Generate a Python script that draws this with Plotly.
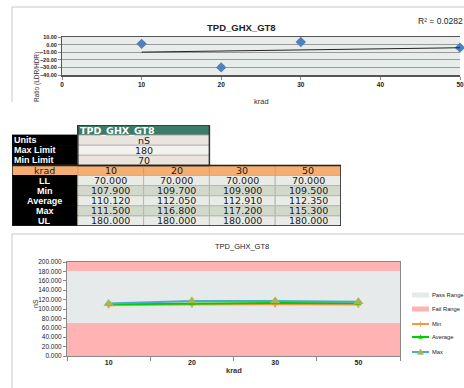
import numpy as np
import plotly.graph_objects as go

W, H = 464, 388
TITLE = "TPD_GHX_GT8"

# ---- data ----
krad = [10, 20, 30, 50]
ratio = [1.0, -30.0, 3.5, -4.0]            # Ratio (LDR/HDR) points, top chart
r2_text = "R² = 0.0282"

units = "nS"
max_limit = 180
min_limit = 70
ll_vals = [70.0, 70.0, 70.0, 70.0]
min_vals = [107.9, 109.7, 109.9, 109.5]
avg_vals = [110.12, 112.05, 112.91, 112.35]
max_vals = [111.5, 116.8, 117.2, 115.3]
ul_vals = [180.0, 180.0, 180.0, 180.0]
y_top = 200

row_labels = ["LL", "Min", "Average", "Max", "UL"]
upper_labels = ["Units", "Max Limit", "Min Limit"]
legend_names = ["Pass Range", "Fail Range", "Min", "Average", "Max"]


def px(x):
    return x / W


def py(y):
    return 1 - y / H


fig = go.Figure()
FONT = "Liberation Sans"
TFONT = "DejaVu Sans"

PASS_C = "#E6EAEA"
FAIL_C = "#FFB3B3"
MIN_C = "#F79646"
AVG_C = "#00CC00"
MAX_C = "#4BACC6"
MAXM_C = "#9BBB59"

# ================= top chart =================
fig.add_trace(go.Scatter(
    x=krad, y=ratio, mode="markers", xaxis="x", yaxis="y",
    marker=dict(symbol="diamond", size=8, color="#4F81BD"),
    showlegend=False, cliponaxis=False))
coef = np.polyfit(krad, ratio, 1)
tx = [min(krad), max(krad)]
fig.add_trace(go.Scatter(
    x=tx, y=list(np.polyval(coef, tx)), mode="lines", xaxis="x", yaxis="y",
    line=dict(color="#222222", width=1), showlegend=False))

shapes = []
annots = []

# top plot background
shapes.append(dict(type="rect", xref="x domain", yref="y domain", x0=0, x1=1, y0=0, y1=1,
                   fillcolor="#E8EDEB", line=dict(width=0), layer="below"))

# ================= table =================


def cell(c0, c1, r, fill, line=None):
    shapes.append(dict(type="rect", xref="x2", yref="y2", x0=c0, x1=c1, y0=r, y1=r + 1,
                       fillcolor=fill, line=dict(color=line or fill, width=1), layer="below"))


def txt(x, r, s, color="#1a1a1a", bold=False, anchor="center", family=TFONT, size=9.5):
    annots.append(dict(xref="x2", yref="y2", x=x, y=r + 0.5, text=("<b>%s</b>" % s) if bold else s,
                       showarrow=False, xanchor=anchor, yanchor="middle", borderpad=0,
                       font=dict(family=family, size=size, color=color)))


# header
cell(1, 3, 0, "#3C7B68", "#2f5f50")
txt(1.02, 0, TITLE, color="white", bold=True, anchor="left")
# upper block
upper_vals = [units, str(max_limit), str(min_limit)]
upper_fill = ["#E9E4DE", "#F4F2EF", "#E9E4DE"]
for i, (lab, val) in enumerate(zip(upper_labels, upper_vals)):
    r = i + 1
    cell(0, 1, r, "black")
    txt(0.02, r, lab, color="white", bold=True, anchor="left", family=FONT, size=9)
    cell(1, 3, r, upper_fill[i], "#B8B8B8")
    txt(2, r, val)
shapes.append(dict(type="rect", xref="x2", yref="y2", x0=1, x1=3, y0=0, y1=4,
                   line=dict(color="#333333", width=1.5)))
# krad row
cell(0, 5, 4, "#F4AE72", "#F4AE72")
txt(0.5, 4, "krad")
for j, k in enumerate(krad):
    shapes.append(dict(type="line", xref="x2", yref="y2", x0=j + 1, x1=j + 1, y0=4, y1=5,
                       line=dict(color="#D89A66", width=1)))
    txt(j + 1.5, 4, str(k))
# data rows
rows = [ll_vals, min_vals, avg_vals, max_vals, ul_vals]
for i, (lab, vals) in enumerate(zip(row_labels, rows)):
    r = i + 5
    cell(0, 1, r, "black")
    txt(0.5, r, lab, color="white", bold=True, family=FONT, size=9)
    fill = "#E9ECE6" if i % 2 == 0 else "#D2D9CB"
    for j, v in enumerate(vals):
        cell(j + 1, j + 2, r, fill, "#B4B8B0")
        txt(j + 1.5, r, "%.3f" % v)
shapes.append(dict(type="rect", xref="x2", yref="y2", x0=0, x1=5, y0=4, y1=10,
                   line=dict(color="#222222", width=1.5)))

# ================= bottom chart =================
cats = [str(k) for k in krad]
fig.add_trace(go.Bar(x=cats, y=ll_vals, xaxis="x3", yaxis="y3", name="Fail Range",
                     marker=dict(color=FAIL_C, line=dict(width=0)), showlegend=False))
fig.add_trace(go.Bar(x=cats, y=[u - l for u, l in zip(ul_vals, ll_vals)], base=ll_vals,
                     xaxis="x3", yaxis="y3", name="Pass Range",
                     marker=dict(color=PASS_C, line=dict(width=0)), showlegend=False))
fig.add_trace(go.Bar(x=cats, y=[y_top - u for u in ul_vals], base=ul_vals,
                     xaxis="x3", yaxis="y3", name="Fail Range",
                     marker=dict(color=FAIL_C, line=dict(width=0)), showlegend=False))
fig.add_trace(go.Scatter(x=cats, y=min_vals, xaxis="x3", yaxis="y3", name="Min", mode="lines+markers",
                         line=dict(color=MIN_C, width=2), showlegend=False,
                         marker=dict(symbol="cross", size=5, color=MIN_C)))
fig.add_trace(go.Scatter(x=cats, y=avg_vals, xaxis="x3", yaxis="y3", name="Average", mode="lines+markers",
                         line=dict(color=AVG_C, width=2), showlegend=False,
                         marker=dict(symbol="triangle-up", size=5, color=AVG_C)))
fig.add_trace(go.Scatter(x=cats, y=max_vals, xaxis="x3", yaxis="y3", name="Max", mode="lines+markers",
                         line=dict(color=MAX_C, width=2), showlegend=False,
                         marker=dict(symbol="triangle-up", size=9, color=MAXM_C)))

# ---- manual legend (Excel-like compact spacing) ----
leg_y = [295, 309, 324, 337, 352]
lx0, lx1, ltx = 412, 429, 431
for name, yy in zip(legend_names, leg_y):
    annots.append(dict(xref="paper", yref="paper", x=px(ltx), y=py(yy), text=name, showarrow=False,
                       xanchor="left", yanchor="middle", borderpad=0,
                       font=dict(family=FONT, size=5.8, color="#222")))
shapes.append(dict(type="rect", xref="paper", yref="paper", x0=px(lx0), x1=px(lx1),
                   y0=py(leg_y[0] + 2.5), y1=py(leg_y[0] - 2.5), fillcolor=PASS_C, line=dict(width=0)))
shapes.append(dict(type="rect", xref="paper", yref="paper", x0=px(lx0), x1=px(lx1),
                   y0=py(leg_y[1] + 2.5), y1=py(leg_y[1] - 2.5), fillcolor=FAIL_C, line=dict(width=0)))
for yy, col in zip(leg_y[2:], [MIN_C, AVG_C, MAX_C]):
    shapes.append(dict(type="line", xref="paper", yref="paper", x0=px(lx0), x1=px(lx1),
                       y0=py(yy), y1=py(yy), line=dict(color=col, width=2)))
cx = (lx0 + lx1) / 2
# Min marker: small cross
shapes.append(dict(type="line", xref="paper", yref="paper", x0=px(cx), x1=px(cx),
                   y0=py(leg_y[2] - 2.5), y1=py(leg_y[2] + 2.5), line=dict(color=MIN_C, width=1)))
# triangles for Average / Max
for yy, col, s in [(leg_y[3], AVG_C, 2.0), (leg_y[4], MAXM_C, 3.0)]:
    path = "M %f,%f L %f,%f L %f,%f Z" % (px(cx - s), py(yy + s * 0.8), px(cx + s), py(yy + s * 0.8),
                                          px(cx), py(yy - s * 1.1))
    shapes.append(dict(type="path", xref="paper", yref="paper", path=path, fillcolor=col,
                       line=dict(color=col, width=0.5)))

# frames
fr = "#C8C8C8"
shapes.append(dict(type="line", xref="paper", yref="paper", x0=px(12), x1=px(12), y0=py(7), y1=py(102),
                   line=dict(color=fr, width=1)))
shapes.append(dict(type="line", xref="paper", yref="paper", x0=px(12), x1=1, y0=py(7), y1=py(7),
                   line=dict(color=fr, width=1)))
shapes.append(dict(type="line", xref="paper", yref="paper", x0=px(12), x1=px(12), y0=py(234), y1=0,
                   line=dict(color=fr, width=1)))
shapes.append(dict(type="line", xref="paper", yref="paper", x0=px(12), x1=1, y0=py(234), y1=py(234),
                   line=dict(color=fr, width=1)))

# titles / labels
annots += [
    dict(xref="paper", yref="paper", x=px(241), y=py(20), text="<b>%s</b>" % TITLE, showarrow=False,
         font=dict(family=FONT, size=9.5, color="#222")),
    dict(xref="paper", yref="paper", x=px(464), y=py(15), text=r2_text, showarrow=False, xanchor="right",
         borderpad=0, font=dict(family=FONT, size=8.5, color="#222")),
    dict(xref="paper", yref="paper", x=px(31), y=py(50), text="Ratio (LDR/HDR)", showarrow=False,
         textangle=-90, font=dict(family=FONT, size=6.5, color="#333")),
    dict(xref="paper", yref="paper", x=px(261), y=py(95), text="krad", showarrow=False,
         font=dict(family=FONT, size=7.5, color="#333")),
    dict(xref="paper", yref="paper", x=px(242), y=py(247), text=TITLE, showarrow=False,
         font=dict(family=FONT, size=7.5, color="#222")),
    dict(xref="paper", yref="paper", x=px(30), y=py(310), text="nS", showarrow=False,
         textangle=-90, font=dict(family=FONT, size=7, color="#333")),
    dict(xref="paper", yref="paper", x=px(234), y=py(377), text="<b>krad</b>", showarrow=False,
         font=dict(family=FONT, size=7.5, color="#333")),
]

fig.update_layout(
    template="none",
    width=W, height=H, autosize=False,
    margin=dict(l=0, r=0, t=0, b=0, pad=0),
    paper_bgcolor="white", plot_bgcolor="rgba(0,0,0,0)",
    barmode="overlay", bargap=0, showlegend=False, hovermode=False,
    shapes=shapes, annotations=annots,
    xaxis=dict(domain=[px(62), px(460)], range=[0, 50], dtick=10, showgrid=False, automargin=False,
               showline=True, linecolor="#555", mirror=True, linewidth=1.5,
               ticks="outside", ticklen=3, tickcolor="#888",
               tickfont=dict(family=FONT, size=6.5, color="#222"), tickprefix="<b>", ticksuffix="</b>",
               zeroline=False, anchor="y"),
    yaxis=dict(domain=[py(75), py(37)], range=[-40, 10], dtick=10, tickformat=".2f", automargin=False,
               showgrid=True, gridcolor="#9A9A9A", gridwidth=1, showline=True, linecolor="#555",
               ticks="outside", ticklen=3, tickcolor="#888", zeroline=False,
               tickfont=dict(family=FONT, size=5.5, color="#222"), tickprefix="<b>", ticksuffix="</b>",
               anchor="x"),
    xaxis2=dict(domain=[px(12), px(341)], range=[0, 5], visible=False, fixedrange=True,
                automargin=False, anchor="y2"),
    yaxis2=dict(domain=[py(226), py(125)], range=[10, 0], visible=False, fixedrange=True,
                automargin=False, anchor="x2"),
    xaxis3=dict(domain=[px(67), px(400)], type="category", range=[-0.5, 3.5], tickson="boundaries",
                ticks="outside", ticklen=4, tickcolor="#888", showline=True, linecolor="#888",
                mirror=True, showgrid=False, automargin=False,
                tickfont=dict(family=FONT, size=7, color="#222"), tickprefix="<b>", ticksuffix="</b>",
                anchor="y3"),
    yaxis3=dict(domain=[py(356), py(262)], range=[0, 200], dtick=20, tickformat=".3f",
                showgrid=False, showline=True, linecolor="#888", mirror=True, ticks="outside",
                ticklen=3, tickcolor="#888", zeroline=False, automargin=False,
                tickfont=dict(family=FONT, size=6.5, color="#222"), anchor="x3"),
)
for ax in ["xaxis", "yaxis", "xaxis3", "yaxis3"]:
    fig.layout[ax].layer = "above traces"

fig.write_html("out.html", config={"displayModeBar": False, "staticPlot": True},
               post_script="document.body.style.margin='0';document.body.style.overflow='hidden';")
